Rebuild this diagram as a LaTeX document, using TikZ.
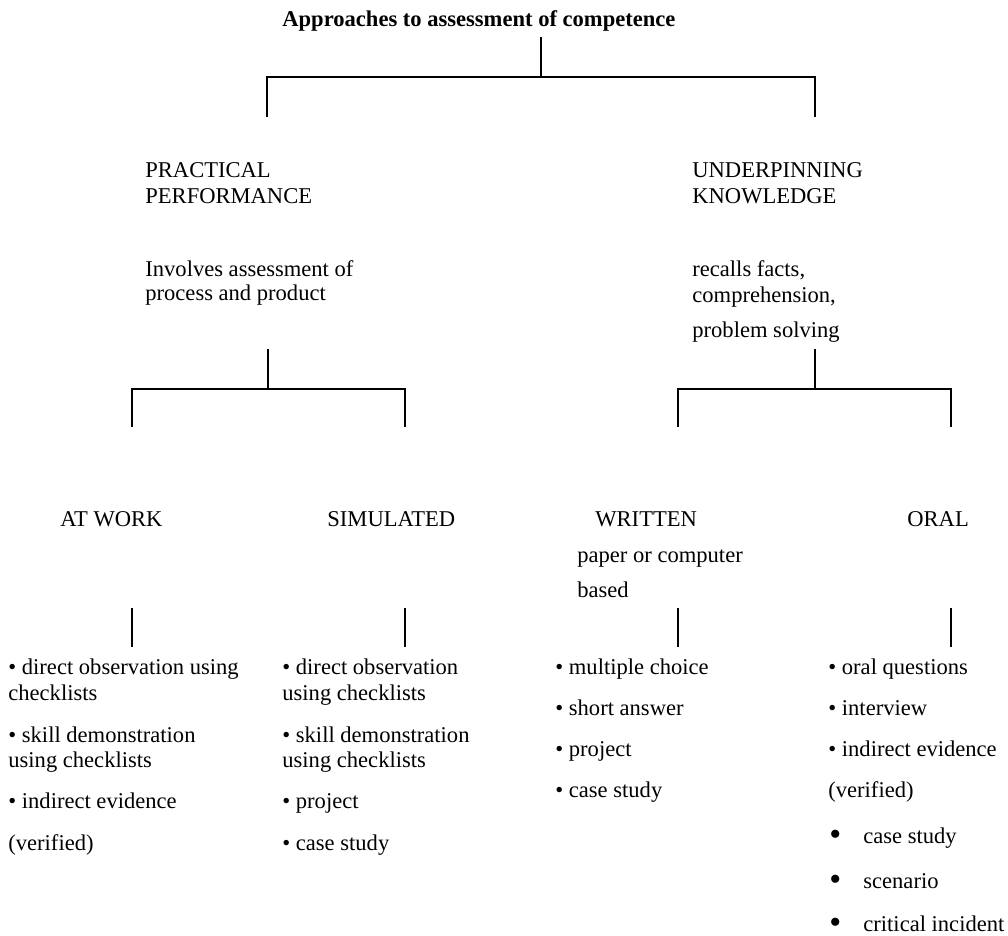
\documentclass[tikz,border=0pt]{standalone}
\usepackage{fontspec}
\setmainfont{Liberation Serif}
\begin{document}
\begin{tikzpicture}[x=0.5pt,y=-0.5pt,
  txt/.style={anchor=base west, inner sep=0pt, font=\fontsize{11.28}{13}\selectfont},
  ttl/.style={txt, font=\fontsize{11.28}{13}\selectfont\bfseries},
  conn/.style={line width=1pt, line join=miter}]
\useasboundingbox (0,0) rectangle (1008,936);
\newcommand{\bigbul}{\raisebox{-1.2pt}[6pt][0pt]{\fontsize{17}{17}\selectfont •}}
% title
\node[ttl] (title) at (282,27) {Approaches to assessment of competence};
% level 1
\node[txt] (pp1) at (145,178) {PRACTICAL};
\node[txt] (pp2) at (145,204) {PERFORMANCE};
\node[txt] (ppd1) at (145,277) {Involves assessment of};
\node[txt] (ppd2) at (145,301) {process and product};
\node[txt] (uk1) at (692,178) {UNDERPINNING};
\node[txt] (uk2) at (692,204) {KNOWLEDGE};
\node[txt] (ukd1) at (692,277) {recalls facts,};
\node[txt] (ukd2) at (692,303) {comprehension,};
\node[txt] (ukd3) at (692,338) {problem solving};
% level 2
\node[txt] (aw) at (60,526) {AT WORK};
\node[txt] (sim) at (327,526) {SIMULATED};
\node[txt] (wr) at (595,526) {WRITTEN};
\node[txt] (wrd1) at (577,562) {paper or computer};
\node[txt] (wrd2) at (577,597) {based};
\node[txt] (or) at (907,526) {ORAL};
% lists
\node[txt] (a1) at (8,675) {• direct observation using};
\node[txt] (a1b) at (8,700) {checklists};
\node[txt] (a2) at (8,742) {• skill demonstration};
\node[txt] (a2b) at (8,767) {using checklists};
\node[txt] (a3) at (8,808) {• indirect evidence};
\node[txt] (a3b) at (8,850) {(verified)};
\node[txt] (s1) at (282,675) {• direct observation};
\node[txt] (s1b) at (282,700) {using checklists};
\node[txt] (s2) at (282,742) {• skill demonstration};
\node[txt] (s2b) at (282,767) {using checklists};
\node[txt] (s3) at (282,808) {• project};
\node[txt] (s4) at (282,850) {• case study};
\node[txt] (w1) at (555,674) {• multiple choice};
\node[txt] (w2) at (555,715) {• short answer};
\node[txt] (w3) at (555,756) {• project};
\node[txt] (w4) at (555,797) {• case study};
\node[txt] (o1) at (828,674) {• oral questions};
\node[txt] (o2) at (828,715) {• interview};
\node[txt] (o3) at (828,756) {• indirect evidence};
\node[txt] (o3b) at (828,797) {(verified)};
\node[txt] (o4b) at (829,843) {\bigbul};
\node[txt] (o4) at (863,843) {case study};
\node[txt] (o5b) at (829,888) {\bigbul};
\node[txt] (o5) at (863,888) {scenario};
\node[txt] (o6b) at (829,931) {\bigbul};
\node[txt] (o6) at (863,931) {critical incident};
% connector coordinates
\coordinate (t0) at (541,37);   \coordinate (t0m) at (541,77);
\coordinate (t0l) at (267,77);  \coordinate (t0r) at (815,77);
\coordinate (t0lb) at (267,117); \coordinate (t0rb) at (815,117);
\coordinate (p0) at (268,349);  \coordinate (p0m) at (268,389);
\coordinate (p0l) at (132,389); \coordinate (p0r) at (405,389);
\coordinate (p0lb) at (132,427); \coordinate (p0rb) at (405,427);
\coordinate (k0) at (815,349);  \coordinate (k0m) at (815,389);
\coordinate (k0l) at (678,389); \coordinate (k0r) at (951,389);
\coordinate (k0lb) at (678,427); \coordinate (k0rb) at (951,427);
\coordinate (awt) at (132,608); \coordinate (awb) at (132,647);
\coordinate (simt) at (405,608); \coordinate (simb) at (405,647);
\coordinate (wrt) at (678,608); \coordinate (wrb) at (678,647);
\coordinate (ort) at (951,608); \coordinate (orb) at (951,647);
% connectors
\draw[conn] (t0) -- (t0m);
\draw[conn] (t0lb) -- (t0l) -- (t0r) -- (t0rb);
\draw[conn] (p0) -- (p0m);
\draw[conn] (p0lb) -- (p0l) -- (p0r) -- (p0rb);
\draw[conn] (k0) -- (k0m);
\draw[conn] (k0lb) -- (k0l) -- (k0r) -- (k0rb);
\draw[conn] (awt) -- (awb);
\draw[conn] (simt) -- (simb);
\draw[conn] (wrt) -- (wrb);
\draw[conn] (ort) -- (orb);
\end{tikzpicture}
\end{document}
